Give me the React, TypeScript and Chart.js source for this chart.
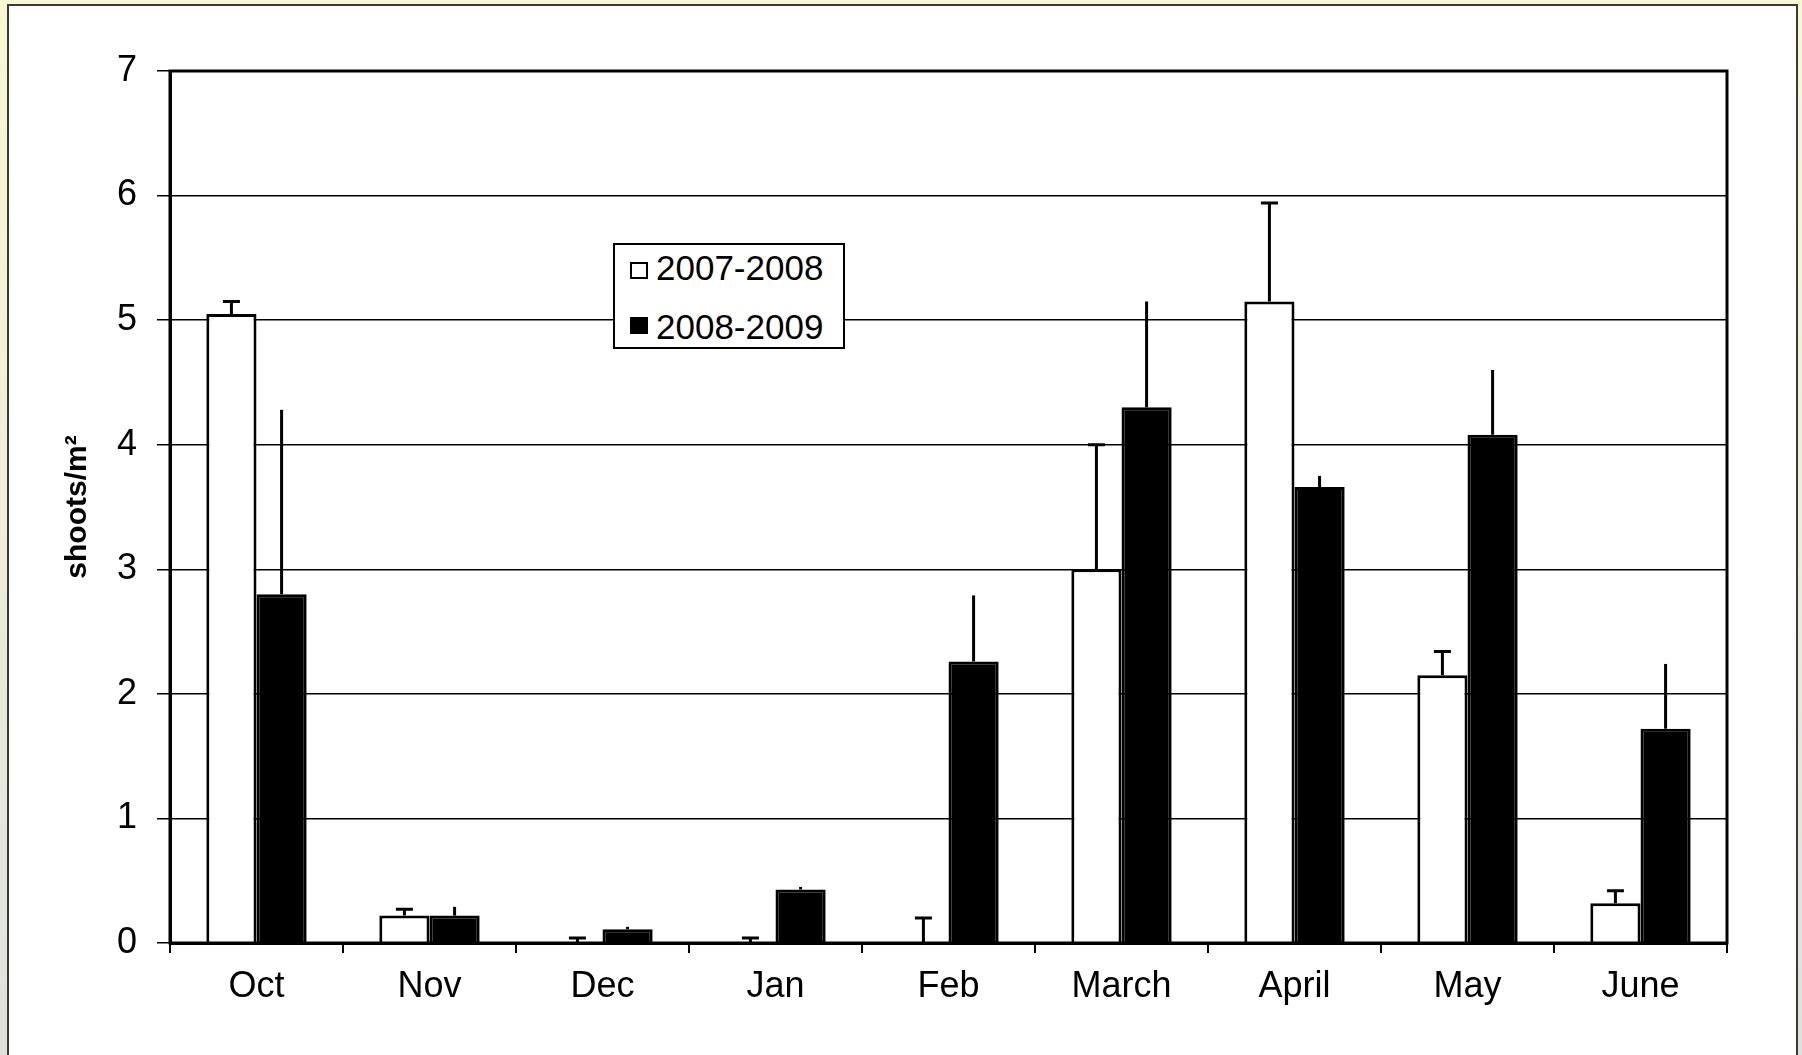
import React, { useEffect, useRef } from "react";
import { Chart, registerables } from "chart.js";

Chart.register(...registerables);

const categories = ["Oct", "Nov", "Dec", "Jan", "Feb", "March", "April", "May", "June"];
const seriesLabels = ["2007-2008", "2008-2009"];
const values0708 = [5.05, 0.22, 0, 0, 0, 3.0, 5.15, 2.15, 0.32];
const errors0708 = [0.1, 0.05, 0.04, 0.04, 0.2, 1.0, 0.79, 0.19, 0.1];
const values0809 = [2.8, 0.22, 0.11, 0.43, 2.26, 4.3, 3.66, 4.08, 1.72];
const errors0809 = [1.48, 0.07, 0.02, 0.02, 0.53, 0.85, 0.09, 0.52, 0.52];
const yMin = 0;
const yMax = 7;
const yStep = 1;
const yTitle = "shoots/m²";

const FONT = "'Liberation Sans', Arial, Helvetica, sans-serif";

const errorBarPlugin = {
  id: "errorBars",
  afterDatasetsDraw(chart: any) {
    const ctx = chart.ctx;
    const yScale = chart.scales.y;
    const errs = [errors0708, errors0809];
    const caps = [true, false];
    chart.data.datasets.forEach((ds: any, di: number) => {
      const meta = chart.getDatasetMeta(di);
      meta.data.forEach((bar: any, i: number) => {
        const v = ds.data[i];
        const e = errs[di][i];
        const x = bar.x;
        const y0 = yScale.getPixelForValue(v);
        const y1 = yScale.getPixelForValue(v + e);
        ctx.save();
        ctx.strokeStyle = "#000";
        ctx.lineWidth = 3;
        ctx.beginPath();
        ctx.moveTo(x, y0);
        ctx.lineTo(x, y1);
        if (caps[di]) {
          ctx.moveTo(x - 8.5, y1);
          ctx.lineTo(x + 8.5, y1);
        }
        ctx.stroke();
        ctx.restore();
      });
    });
  },
};

const frameBoxPlugin = {
  id: "frameBox",
  afterDraw(chart: any) {
    const { ctx, chartArea } = chart;
    ctx.save();
    ctx.strokeStyle = "#000";
    ctx.lineWidth = 3;
    ctx.strokeRect(chartArea.left, chartArea.top, chartArea.right - chartArea.left, chartArea.bottom - chartArea.top);
    ctx.restore();
  },
};

export default function App() {
  const ref = useRef<HTMLCanvasElement>(null);

  useEffect(() => {
    const chart = new Chart(ref.current as HTMLCanvasElement, {
      type: "bar",
      data: {
        labels: categories,
        datasets: [
          {
            label: seriesLabels[0],
            data: values0708,
            backgroundColor: "#ffffff",
            borderColor: "#000000",
            borderWidth: 3,
            categoryPercentage: 0.58,
            barPercentage: 1,
          },
          {
            label: seriesLabels[1],
            data: values0809,
            backgroundColor: "#000000",
            borderColor: "#000000",
            borderWidth: 3,
            categoryPercentage: 0.58,
            barPercentage: 1,
          },
        ],
      },
      options: {
        responsive: false,
        devicePixelRatio: 1,
        animation: false,
        layout: { padding: { top: 71, right: 75, bottom: 0, left: 0 } },
        plugins: {
          legend: { display: false },
          tooltip: { enabled: false },
        },
        scales: {
          x: {
            grid: {
              offset: true,
              drawOnChartArea: false,
              drawTicks: true,
              tickLength: 10,
              color: "#000",
              lineWidth: 2,
            },
            border: { display: true, color: "#000", width: 3 },
            ticks: {
              color: "#000",
              padding: 12,
              font: { family: FONT, size: 36 },
            },
            afterFit(scale: any) {
              scale.height = 112;
            },
          },
          y: {
            min: yMin,
            max: yMax,
            ticks: {
              stepSize: yStep,
              color: "#000",
              padding: 20,
              font: { family: FONT, size: 36 },
            },
            grid: {
              color: "#000",
              lineWidth: 1.5,
              drawTicks: true,
              tickLength: 13,
            },
            border: { display: true, color: "#000", width: 3 },
            title: {
              display: true,
              text: yTitle,
              color: "#000",
              font: { family: FONT, size: 30, weight: "bold" },
              padding: { top: 60, bottom: 0 },
            },
            afterFit(scale: any) {
              scale.width = 170;
            },
          },
        },
      },
      plugins: [errorBarPlugin, frameBoxPlugin],
    } as any);
    return () => chart.destroy();
  }, []);

  const legendText: React.CSSProperties = {
    position: "absolute",
    left: 656,
    height: 40,
    lineHeight: "40px",
    fontFamily: FONT,
    fontSize: 35,
    color: "#000",
    whiteSpace: "nowrap",
  };

  return (
    <div
      style={{
        position: "fixed",
        left: 0,
        top: 0,
        width: 1802,
        height: 1055,
        overflow: "hidden",
        background: "linear-gradient(#f8f8d2, #f0f0d8 40%, #e0e0dc)",
      }}
    >
      <div
        style={{
          position: "absolute",
          left: 7,
          top: 4,
          width: 1787,
          height: 1100,
          border: "2px solid #3a3a3a",
          background: "#ffffff",
        }}
      />
      <canvas
        ref={ref}
        width={1802}
        height={1055}
        style={{ position: "absolute", left: 0, top: 0, width: 1802, height: 1055 }}
      />
      <div
        style={{
          position: "absolute",
          left: 613,
          top: 243,
          width: 232,
          height: 106,
          boxSizing: "border-box",
          border: "2px solid #000",
          background: "#fff",
        }}
      />
      <div
        style={{
          position: "absolute",
          left: 630,
          top: 262,
          width: 18,
          height: 17,
          boxSizing: "border-box",
          border: "2px solid #000",
          background: "#fff",
        }}
      />
      <div style={{ ...legendText, top: 248 }}>{seriesLabels[0]}</div>
      <div
        style={{
          position: "absolute",
          left: 630,
          top: 317,
          width: 18,
          height: 17,
          background: "#000",
        }}
      />
      <div style={{ ...legendText, top: 307 }}>{seriesLabels[1]}</div>
    </div>
  );
}
